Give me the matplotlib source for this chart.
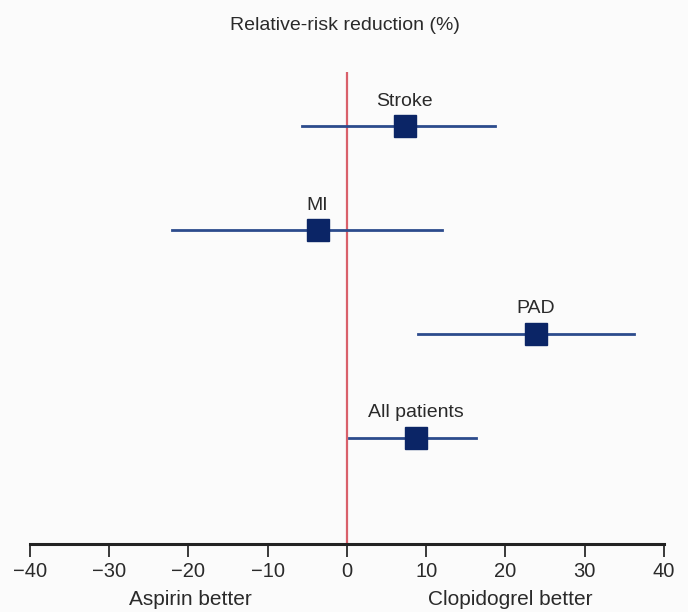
import matplotlib.pyplot as plt

plt.rcParams['font.family'] = ['Liberation Sans', 'DejaVu Sans']

# CAPRIE subgroups: relative-risk reduction (%) with 95% CI
groups = ['Stroke', 'MI', 'PAD', 'All patients']
rrr = [7.3, -3.7, 23.8, 8.7]
ci_low = [-5.7, -22.1, 8.9, 0.3]
ci_high = [18.7, 12.0, 36.2, 16.3]
ypos = [4, 3, 2, 1]
xticks = [-40, -30, -20, -10, 0, 10, 20, 30, 40]

fig = plt.figure(figsize=(6.88, 6.12), dpi=100)
fig.patch.set_facecolor('#fbfbfb')
ax = fig.add_axes([0.0436, 0.111, 0.9215, 0.771])
ax.set_facecolor('#fbfbfb')

# reference line at zero
ax.axvline(0, color='#d9606a', lw=1.6, zorder=1)

for name, m, lo, hi, y in zip(groups, rrr, ci_low, ci_high, ypos):
    ax.plot([lo, hi], [y, y], color='#2c4b8c', lw=2, zorder=2)
    ax.plot(m, y, marker='s', ms=16, color='#0b2566', zorder=3)
    ax.annotate(name, (m, y), xytext=(0, 12), textcoords='offset points',
                ha='center', va='bottom', fontsize=14, color='#2a2a2a')

ax.set_xlim(-40, 40)
ax.set_ylim(-0.02, 4.52)
ax.set_xticks(xticks)
ax.set_xticklabels([f'\u2212{abs(t)}' if t < 0 else str(t) for t in xticks])
ax.set_yticks([])
for s in ['top', 'right', 'left']:
    ax.spines[s].set_visible(False)
ax.spines['bottom'].set_linewidth(2.2)
ax.spines['bottom'].set_color('#222222')
ax.tick_params(axis='x', direction='out', length=9, width=1.3,
               labelsize=14.5, colors='#2a2a2a', pad=4)

fig.text(0.502, 0.958, 'Relative-risk reduction (%)', ha='center', va='center',
         fontsize=14, color='#2a2a2a')
fig.text(0.277, 0.02, 'Aspirin better', ha='center', va='center',
         fontsize=15, color='#2a2a2a')
fig.text(0.742, 0.02, 'Clopidogrel better', ha='center', va='center',
         fontsize=15, color='#2a2a2a')

fig.savefig('out.png', dpi=100, facecolor=fig.get_facecolor())
